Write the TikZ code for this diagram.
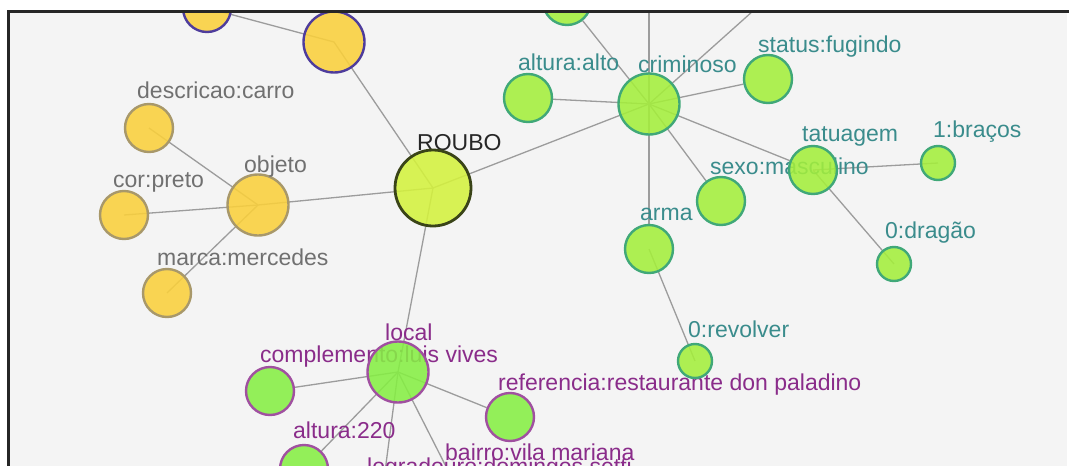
\documentclass[tikz,border=0pt]{standalone}
\usepackage{fontspec}
\setmainfont{Liberation Sans}
\usetikzlibrary{positioning}
\usepackage{color}
\definecolor{bgGray}{HTML}{F4F4F4}
\definecolor{edgeGray}{HTML}{9C9C9C}
\definecolor{objFill}{HTML}{FAD03C}
\definecolor{objLine}{HTML}{A8986A}
\definecolor{objTop}{HTML}{4E3C9C}
\definecolor{objText}{HTML}{707070}
\definecolor{crimeFill}{HTML}{D4F23E}
\definecolor{crimeLine}{HTML}{3A4418}
\definecolor{crimFill}{HTML}{A4EF3C}
\definecolor{crimLine}{HTML}{40A878}
\definecolor{crimText}{HTML}{3A8C8C}
\definecolor{locFill}{HTML}{86EF44}
\definecolor{locLine}{HTML}{A050A0}
\definecolor{locText}{HTML}{8A2C8A}
\pgfdeclarelayer{bg}
\pgfdeclarelayer{edges}
\pgfsetlayers{bg,edges,main}

\begin{document}
\begin{tikzpicture}
  [x=1pt, y=-1pt,
   vert/.style={circle, inner sep=0pt, line width=2.4pt, fill opacity=0.88},
   tiny/.style={minimum size=34pt},
   mid/.style={minimum size=48pt},
   large/.style={minimum size=61pt},
   objNode/.style={vert, fill=objFill, draw=objLine},
   crimNode/.style={vert, fill=crimFill, draw=crimLine},
   locNode/.style={vert, fill=locFill, draw=locLine},
   lbl/.style={anchor=base west, inner sep=0pt, font=\fontsize{23}{23}\selectfont},
   link/.style={draw=edgeGray, line width=1.3pt}]
  \useasboundingbox (0,0) rectangle (1069,466);
  \begin{scope}
  \clip (10,13) rectangle (1067,466);
  % objeto
  \node[objNode, mid, draw=objTop] (topYel) at (207,8) {};
  \node[objNode, large, draw=objTop] (bigYel) at (334,42) {};
  \node[objNode, mid] (descCarro) at (149,128) {};
  \node[lbl, objText] (descCarroLbl) at (137,98) {descricao:carro};
  \node[objNode, mid] (corPreto) at (124,215) {};
  \node[lbl, objText] (corPretoLbl) at (113,187) {cor:preto};
  \node[objNode, mid] (marcaMerc) at (167,293) {};
  \node[lbl, objText] (marcaMercLbl) at (157,265) {marca:mercedes};
  \node[objNode, large] (objeto) at (258,205) {};
  \node[lbl, objText] (objetoLbl) at (244,172) {objeto};
  % roubo
  \node[lbl, black!85] (rouboLbl) at (417,150) {ROUBO};
  \node[vert, minimum size=76pt, line width=2.8pt, fill=crimeFill, draw=crimeLine] (roubo) at (433,188) {};
  % local
  \node[locNode, mid] (complLuis) at (270,391) {};
  \node[lbl, locText] (complLuisLbl) at (260,362) {complemento:luis vives};
  \node[locNode, large] (local) at (398,372) {};
  \node[lbl, locText] (localLbl) at (385,340) {local};
  \node[locNode, mid] (refRest) at (510,417) {};
  \node[lbl, locText] (refRestLbl) at (498,390) {referencia:restaurante don paladino};
  \node[locNode, mid] (altura220) at (304,469) {};
  \node[lbl, locText] (altura220Lbl) at (293,438) {altura:220};
  \coordinate (logrSetti) at (380,510);
  \node[lbl, locText] (logrSettiLbl) at (367,474) {logradouro:domingos setti};
  \coordinate (bairroVila) at (462,498);
  \node[lbl, locText] (bairroVilaLbl) at (445,460) {bairro:vila mariana};
  % criminoso
  \node[crimNode, mid] (topGreen) at (567,1) {};
  \coordinate (upCrim) at (649,-40);
  \coordinate (upRightCrim) at (810,-40);
  \node[crimNode, large] (criminoso) at (649,104) {};
  \node[lbl, crimText] (criminosoLbl) at (638,72) {criminoso};
  \node[crimNode, mid] (alturaAlto) at (528,98) {};
  \node[lbl, crimText] (alturaAltoLbl) at (518,70) {altura:alto};
  \node[crimNode, mid] (statusFug) at (768,79) {};
  \node[lbl, crimText] (statusFugLbl) at (758,52) {status:fugindo};
  \node[crimNode, mid] (sexoMasc) at (721,201) {};
  \node[lbl, crimText] (sexoMascLbl) at (710,174) {sexo:masculino};
  \node[crimNode, mid] (tatuagem) at (813,170) {};
  \node[lbl, crimText] (tatuagemLbl) at (802,141) {tatuagem};
  \node[crimNode, tiny] (bracos) at (938,163) {};
  \node[lbl, crimText] (bracosLbl) at (933,137) {1:braços};
  \node[crimNode, tiny] (dragao) at (894,264) {};
  \node[lbl, crimText] (dragaoLbl) at (885,238) {0:dragão};
  \node[crimNode, mid] (arma) at (649,249) {};
  \node[lbl, crimText] (armaLbl) at (640,220) {arma};
  \node[crimNode, tiny] (revolver) at (695,361) {};
  \node[lbl, crimText] (revolverLbl) at (688,337) {0:revolver};
  \end{scope}

  \begin{pgfonlayer}{edges}
  \begin{scope}
  \clip (10,13) rectangle (1067,466);
  \draw[link] (topYel.center) -- (bigYel.center) -- (roubo.center);
  \draw[link] (roubo.center) -- (objeto.center);
  \foreach \n in {descCarro, corPreto, marcaMerc}
    \draw[link] (objeto.center) -- (\n.center);
  \draw[link] (roubo.center) -- (criminoso.center);
  \draw[link] (roubo.center) -- (local.center);
  \foreach \n in {topGreen, upCrim, upRightCrim, alturaAlto, statusFug, sexoMasc, tatuagem, arma}
    \draw[link] (criminoso.center) -- (\n);
  \draw[link] (tatuagem.center) -- (bracos.center);
  \draw[link] (tatuagem.center) -- (dragao.center);
  \draw[link] (arma.center) -- (revolver.center);
  \foreach \n in {complLuis, refRest, altura220, logrSetti, bairroVila}
    \draw[link] (local.center) -- (\n);
  \end{scope}
  \end{pgfonlayer}

  \begin{pgfonlayer}{bg}
  \fill[white] (-10,-10) rectangle (1080,476);
  \fill[bgGray] (8.7,11.7) rectangle (1067,476);
  \end{pgfonlayer}

  \draw[line width=2.6pt, black!85] (8.7,476) -- (8.7,11.7) -- (1080,11.7);
\end{tikzpicture}
\end{document}
